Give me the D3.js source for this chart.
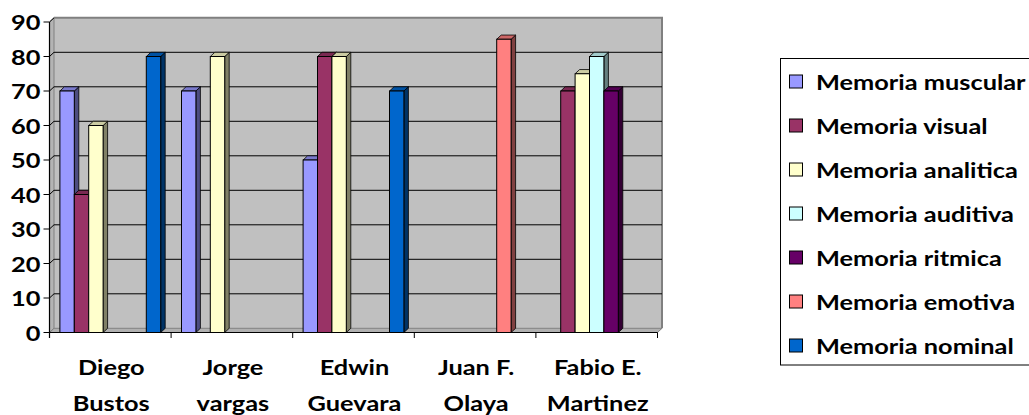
<!DOCTYPE html>
<html>
<head>
<meta charset="utf-8">
<script src="https://cdn.jsdelivr.net/npm/d3@7"></script>
<style>
  html, body { margin: 0; padding: 0; background: #fff; }
  svg { display: block; }
  text { font-family: Lato, "Open Sans", sans-serif; font-weight: bold; fill: #000; }
</style>
</head>
<body>
<svg id="chart" width="1029" height="415"></svg>
<script>
// Chart data
const categories = ["Diego Bustos", "Jorge vargas", "Edwin Guevara", "Juan F. Olaya", "Fabio E. Martinez"];
const categoryLines = [["Diego", "Bustos"], ["Jorge", "vargas"], ["Edwin", "Guevara"], ["Juan F.", "Olaya"], ["Fabio E.", "Martinez"]];
const seriesNames = ["Memoria muscular", "Memoria visual", "Memoria analitica", "Memoria auditiva", "Memoria ritmica", "Memoria emotiva", "Memoria nominal"];
const muscular  = [70, 70, 50, null, null];
const visual    = [40, null, 80, null, 70];
const analitica = [60, 80, 80, null, 75];
const auditiva  = [null, null, null, null, 80];
const ritmica   = [null, null, null, null, 70];
const emotiva   = [null, null, null, 85, null];
const nominal   = [80, null, 70, null, null];
const yTicks = [0, 10, 20, 30, 40, 50, 60, 70, 80, 90];
const seriesColors = ["#9999FF", "#993366", "#FFFFCC", "#CCFFFF", "#660066", "#FF8080", "#0066CC"];

const seriesValues = [muscular, visual, analitica, auditiva, ritmica, emotiva, nominal];

// Layout
const svg = d3.select("#chart");
const plotLeft = 49.5, plotRight = 657.5, plotBase = 332.5, plotTop = 22;
const dx = 4.5, dy = -4.2;           // 3-D depth offset
const textScale = 1.19;              // horizontal stretch of labels
const fontSize = 21.3;

const x = d3.scaleBand().domain(categories).range([plotLeft, plotRight]);
const groupPad = 10.4;
const xs = d3.scaleBand().domain(seriesNames).range([groupPad, x.bandwidth() - groupPad]);
const y = d3.scaleLinear().domain([0, 90]).range([plotBase, plotTop]);

// Walls and floor
const wallFill = "#C0C0C0", wallEdge = "#808080";
svg.append("rect")
  .attr("x", plotLeft + dx).attr("y", y(90) + dy)
  .attr("width", plotRight - plotLeft).attr("height", plotBase - y(90))
  .attr("fill", wallFill);
// side wall
svg.append("path")
  .attr("d", `M${plotLeft},${y(90)} L${plotLeft + dx},${y(90) + dy} L${plotLeft + dx},${plotBase + dy} L${plotLeft},${plotBase} Z`)
  .attr("fill", "#B4B4B4").attr("stroke", wallEdge).attr("stroke-width", 1);
// floor
svg.append("path")
  .attr("d", `M${plotLeft},${plotBase} L${plotLeft + dx},${plotBase + dy} L${plotRight + dx},${plotBase + dy} L${plotRight},${plotBase} Z`)
  .attr("fill", "#B0B0B0").attr("stroke", wallEdge).attr("stroke-width", 1);
// wall outline (top and right)
svg.append("path")
  .attr("d", `M${plotLeft + dx},${y(90) + dy} L${plotRight + dx},${y(90) + dy} L${plotRight + dx},${plotBase + dy}`)
  .attr("fill", "none").attr("stroke", wallEdge).attr("stroke-width", 2);

// Gridlines on the back wall and side wall
const grid = svg.append("g");
yTicks.filter(t => t > 0 && t < 90).forEach(t => {
  grid.append("line")
    .attr("x1", plotLeft + dx).attr("x2", plotRight + dx)
    .attr("y1", y(t) + dy).attr("y2", y(t) + dy)
    .attr("stroke", "#000").attr("stroke-width", 1);
});
yTicks.filter(t => t > 0).forEach(t => {
  grid.append("line")
    .attr("x1", plotLeft).attr("y1", y(t))
    .attr("x2", plotLeft + dx).attr("y2", y(t) + dy)
    .attr("stroke", "#000").attr("stroke-width", 1);
});

// Bars
function shade(c, k) {
  const col = d3.rgb(c);
  return d3.rgb(col.r * k, col.g * k, col.b * k).formatHex();
}
const bars = [];
categories.forEach((cat, ci) => {
  seriesNames.forEach((s, si) => {
    const v = seriesValues[si][ci];
    if (v == null) return;
    bars.push({ cat, s, si, v, x0: x(cat) + xs(s) });
  });
});
bars.sort((a, b) => a.x0 - b.x0);
const barG = svg.append("g");
const w = xs.bandwidth();
bars.forEach(b => {
  const g = barG.append("g");
  const x0 = b.x0, x1 = b.x0 + w, yt = y(b.v);
  const col = seriesColors[b.si];
  g.append("path")
    .attr("d", `M${x1},${yt} L${x1 + dx},${yt + dy} L${x1 + dx},${plotBase + dy} L${x1},${plotBase} Z`)
    .attr("fill", shade(col, 0.5)).attr("stroke", "#000").attr("stroke-width", 0.8);
  g.append("path")
    .attr("d", `M${x0},${yt} L${x0 + dx},${yt + dy} L${x1 + dx},${yt + dy} L${x1},${yt} Z`)
    .attr("fill", shade(col, 0.8)).attr("stroke", "#000").attr("stroke-width", 0.8);
  g.append("rect")
    .attr("x", x0).attr("y", yt).attr("width", w).attr("height", plotBase - yt)
    .attr("fill", col).attr("stroke", "#000").attr("stroke-width", 1);
});

// Y axis
const ya = svg.append("g");
ya.append("line").attr("x1", plotLeft).attr("x2", plotLeft).attr("y1", y(90)).attr("y2", plotBase + 5.5)
  .attr("stroke", "#000").attr("stroke-width", 1.2);
yTicks.forEach(t => {
  ya.append("line").attr("x1", plotLeft - 6).attr("x2", plotLeft).attr("y1", y(t)).attr("y2", y(t))
    .attr("stroke", "#000").attr("stroke-width", 1);
  ya.append("text")
    .attr("transform", `translate(${plotLeft - 9},${y(t)}) scale(${textScale},1)`)
    .attr("text-anchor", "end").attr("dominant-baseline", "central")
    .attr("font-size", fontSize)
    .text(t);
});

// X axis
const xa = svg.append("g");
xa.append("line").attr("x1", plotLeft).attr("x2", plotRight).attr("y1", plotBase).attr("y2", plotBase)
  .attr("stroke", "#000").attr("stroke-width", 1.2);
categories.concat([null]).forEach(cat => {
  const xp = cat ? x(cat) : plotRight;
  xa.append("line").attr("x1", xp).attr("x2", xp).attr("y1", plotBase).attr("y2", plotBase + 5.5)
    .attr("stroke", "#000").attr("stroke-width", 1);
});
categories.forEach((cat, i) => {
  const cx = x(cat) + x.bandwidth() / 2 + 1;
  categoryLines[i].forEach((line, li) => {
    xa.append("text")
      .attr("transform", `translate(${cx},${375 + li * 35.5}) scale(${textScale},1)`)
      .attr("text-anchor", "middle")
      .attr("font-size", fontSize)
      .text(line);
  });
});

// Legend
const lg = svg.append("g");
lg.append("rect").attr("x", 780.5).attr("y", 58.5).attr("width", 270).attr("height", 306.5)
  .attr("fill", "#fff").attr("stroke", "#000").attr("stroke-width", 1);
seriesNames.forEach((s, i) => {
  const cy = 81.5 + i * 44;
  lg.append("rect").attr("x", 789.5).attr("y", cy - 6.5).attr("width", 13).attr("height", 13)
    .attr("fill", seriesColors[i]).attr("stroke", "#000").attr("stroke-width", 1);
  lg.append("text")
    .attr("transform", `translate(816,${cy}) scale(${textScale},1)`)
    .attr("dominant-baseline", "central")
    .attr("font-size", fontSize)
    .text(s);
});
</script>
</body>
</html>
